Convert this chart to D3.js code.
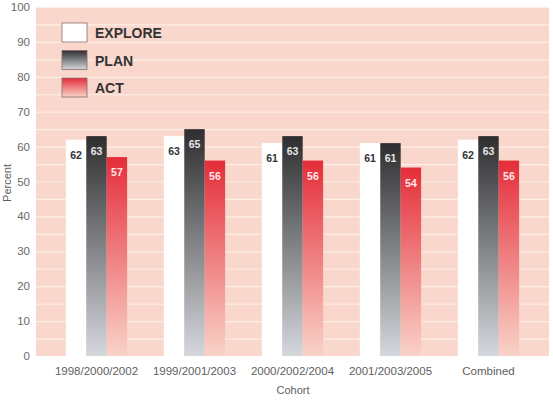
<!DOCTYPE html>
<html>
<head>
<meta charset="utf-8">
<script src="https://cdn.jsdelivr.net/npm/d3@7"></script>
<style>
  body { margin: 0; background: #fff; }
  svg { display: block; font-family: "Liberation Sans", Arial, sans-serif; }
</style>
</head>
<body>
<div id="chart"></div>
<script>
// Data
const cohorts = ["1998/2000/2002", "1999/2001/2003", "2000/2002/2004", "2001/2003/2005", "Combined"];
const series = ["EXPLORE", "PLAN", "ACT"];
const explore = [62, 63, 61, 61, 62];
const plan = [63, 65, 63, 61, 63];
const act = [57, 56, 56, 54, 56];
const yTicks = [0, 10, 20, 30, 40, 50, 60, 70, 80, 90, 100];

const width = 553, height = 401;
const plot = { left: 36, right: 549, top: 7, bottom: 356 };

const svg = d3.select("#chart").append("svg")
    .attr("width", width)
    .attr("height", height);

// Gradients
const defs = svg.append("defs");
function grad(id, top, bottom) {
    const g = defs.append("linearGradient").attr("id", id)
        .attr("x1", 0).attr("y1", 0).attr("x2", 0).attr("y2", 1);
    g.append("stop").attr("offset", "0%").attr("stop-color", top);
    g.append("stop").attr("offset", "100%").attr("stop-color", bottom);
}
grad("g-plan", "#2e2e30", "#d4d7dc");
grad("g-act", "#e52d3a", "#f9d3c8");

const fills = { EXPLORE: "#ffffff", PLAN: "url(#g-plan)", ACT: "url(#g-act)" };
const labelColors = { EXPLORE: "#333333", PLAN: "#e6e6e6", ACT: "#ffe8e8" };
const values = { EXPLORE: explore, PLAN: plan, ACT: act };

const y = d3.scaleLinear().domain([0, 100]).range([plot.bottom, plot.top]);
const x0 = d3.scaleBand().domain(cohorts).range([47.5, 537.5]).paddingInner(0.375).paddingOuter(0.1875);
const x1 = d3.scaleBand().domain(series).range([0, x0.bandwidth()]);

// Background
svg.append("rect")
    .attr("x", plot.left).attr("y", plot.top)
    .attr("width", plot.right - plot.left).attr("height", plot.bottom - plot.top)
    .attr("fill", "#f9d7cc");

// Gridlines every 5
svg.append("g").selectAll("line")
    .data(d3.range(5, 101, 5))
    .enter().append("line")
    .attr("x1", plot.left).attr("x2", plot.right)
    .attr("y1", d => y(d) + 0.5).attr("y2", d => y(d) + 0.5)
    .attr("stroke", "#fdeee6")
    .attr("stroke-width", 1.2);

// Bars
const rows = [];
cohorts.forEach((c, i) => series.forEach(s => rows.push({ cohort: c, series: s, value: values[s][i] })));

const bars = svg.append("g");
bars.selectAll("rect")
    .data(rows)
    .enter().append("rect")
    .attr("x", d => x0(d.cohort) + x1(d.series))
    .attr("y", d => y(d.value))
    .attr("width", x1.bandwidth())
    .attr("height", d => y(0) - y(d.value))
    .attr("fill", d => fills[d.series]);

bars.selectAll("text")
    .data(rows)
    .enter().append("text")
    .attr("x", d => x0(d.cohort) + x1(d.series) + x1.bandwidth() / 2)
    .attr("y", d => y(d.value) + 19)
    .attr("text-anchor", "middle")
    .style("font-size", "10.5px")
    .style("font-weight", "bold")
    .style("fill", d => labelColors[d.series])
    .text(d => d.value);

// Y axis labels
svg.append("g").selectAll("text")
    .data(yTicks)
    .enter().append("text")
    .attr("x", 30)
    .attr("y", d => y(d))
    .attr("dy", "0.35em")
    .attr("text-anchor", "end")
    .style("font-size", "11.5px")
    .style("fill", "#6a6a6a")
    .text(d => d);

// X axis labels
svg.append("g").selectAll("text")
    .data(cohorts)
    .enter().append("text")
    .attr("x", d => x0(d) + x0.bandwidth() / 2)
    .attr("y", 375)
    .attr("text-anchor", "middle")
    .style("font-size", "11.5px")
    .style("fill", "#5e5e5e")
    .text(d => d);

svg.append("text")
    .attr("x", 293).attr("y", 394)
    .attr("text-anchor", "middle")
    .style("font-size", "11px")
    .style("fill", "#5e5e5e")
    .text("Cohort");

svg.append("text")
    .attr("transform", "translate(11,183) rotate(-90)")
    .attr("text-anchor", "middle")
    .style("font-size", "11px")
    .style("fill", "#5e5e5e")
    .text("Percent");

// Legend
const legend = svg.append("g").attr("transform", "translate(62,23)");
const li = legend.selectAll("g")
    .data(series)
    .enter().append("g")
    .attr("transform", (d, i) => `translate(0, ${i * 27.5})`);
li.append("rect")
    .attr("width", 25).attr("height", 19)
    .attr("fill", d => fills[d])
    .attr("stroke", "#8a6a66")
    .attr("stroke-width", 0.8);
li.append("text")
    .attr("x", 33).attr("y", 15)
    .style("font-size", "14px")
    .style("font-weight", "bold")
    .style("fill", "#333")
    .text(d => d);
</script>
</body>
</html>
